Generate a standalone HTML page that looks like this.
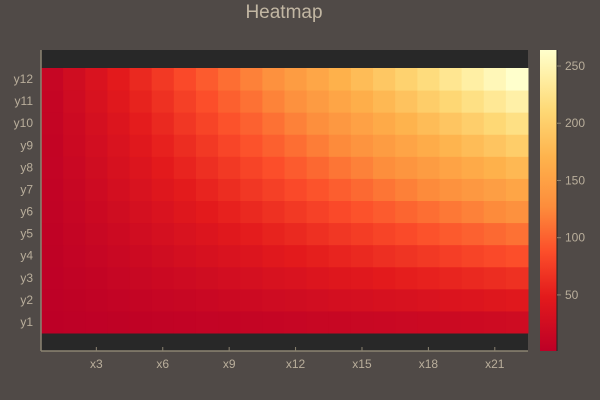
<!DOCTYPE html>
<html><head><meta charset="utf-8"><style>
body{margin:0;background:#504a47;}
svg{display:block;font-family:"Liberation Sans","DejaVu Sans",sans-serif;}
</style></head><body>
<svg id="c" width="600" height="400">
<rect width="600" height="400" fill="#504a47"/>
<text x="284" y="18" font-size="19" fill="#c2b7a3" text-anchor="middle">Heatmap</text>
<rect x="41" y="50" width="487" height="301" fill="#282828"/>
<g id="cells"></g>
<g id="axes"></g>
<defs><linearGradient id="cg" x1="0" y1="1" x2="0" y2="0"></linearGradient></defs>
<rect x="540" y="50" width="17" height="301" fill="url(#cg)"/>
<g id="cbar"></g>
</svg>
<script>
const xCount = 22;
const yCount = 12;
const xTicks = [3,6,9,12,15,18,21];
const cbTicks = [50,100,150,200,250];
const zMin = 1, zMax = 264;
const stops = [[0,'#bd0026'],[0.18,'#e31a1c'],[0.33,'#fc4e2a'],[0.48,'#fd8d3c'],[0.64,'#feb24c'],[0.8,'#fed976'],[0.9,'#ffeda0'],[1,'#ffffcc']];
const NS='http://www.w3.org/2000/svg';
function mk(t,a,p){const e=document.createElementNS(NS,t);for(const k in a)e.setAttribute(k,a[k]);p.appendChild(e);return e;}
const X0=41,X1=528,YT=68,YB=333;
const cw=(X1-X0)/xCount, ch=(YB-YT)/yCount;
function xs(i){return X0+(i-0.5)*cw;}
function ys(j){return YB-(j-0.5)*ch;}
function cb(v){return 351-(v-zMin)/(zMax-zMin)*301;}
function hex(h){return [1,3,5].map(i=>parseInt(h.substr(i,2),16));}
function color(v){let t=(v-zMin)/(zMax-zMin);t=Math.max(0,Math.min(1,t));
 for(let k=1;k<stops.length;k++){if(t<=stops[k][0]){const a=stops[k-1],b=stops[k];const f=(t-a[0])/(b[0]-a[0]);const ca=hex(a[1]),cbb=hex(b[1]);
 return 'rgb('+ca.map((c,i)=>Math.round(c+(cbb[i]-c)*f)).join(',')+')';}}return stops[stops.length-1][1];}
const cells=document.getElementById('cells');
for(let j=1;j<=yCount;j++)for(let i=1;i<=xCount;i++){
 const r=mk('rect',{x:xs(i)-cw/2,y:ys(j)-ch/2,width:cw+0.5,height:ch+0.5,fill:color(i*j)},cells);
 
 
}
const ax=document.getElementById('axes');
const l1=mk('line',{x1:41,y1:50,x2:41,y2:351,stroke:'#8c8472','stroke-width':1.5},ax);

const l2=mk('line',{x1:41,y1:351,x2:528,y2:351,stroke:'#8c8472','stroke-width':1.5},ax);

xTicks.forEach(v=>{const x=xs(v);
 mk('line',{x1:x,y1:351,x2:x,y2:347,stroke:'#8c8472'},ax);
 const t=mk('text',{x:x,y:368,'font-size':12,fill:'#b9ae9b','text-anchor':'middle'},ax);t.textContent='x'+v;
 });
for(let j=1;j<=yCount;j++){const t=mk('text',{x:33,y:ys(j)+4,'font-size':12,fill:'#b9ae9b','text-anchor':'end'},ax);t.textContent='y'+j;
 }
const g=document.getElementById('cg');
stops.forEach(s=>mk('stop',{offset:s[0],'stop-color':s[1]},g));
const cbg=document.getElementById('cbar');
mk('line',{x1:557,y1:50,x2:557,y2:351,stroke:'#222','stroke-width':1},cbg);
cbTicks.forEach(v=>{const y=cb(v);
 mk('line',{x1:557,y1:y,x2:561,y2:y,stroke:'#8c8472'},cbg);
 const t=mk('text',{x:565,y:y+4,'font-size':12,fill:'#b9ae9b'},cbg);t.textContent=v;
 });
</script>
</body></html>
